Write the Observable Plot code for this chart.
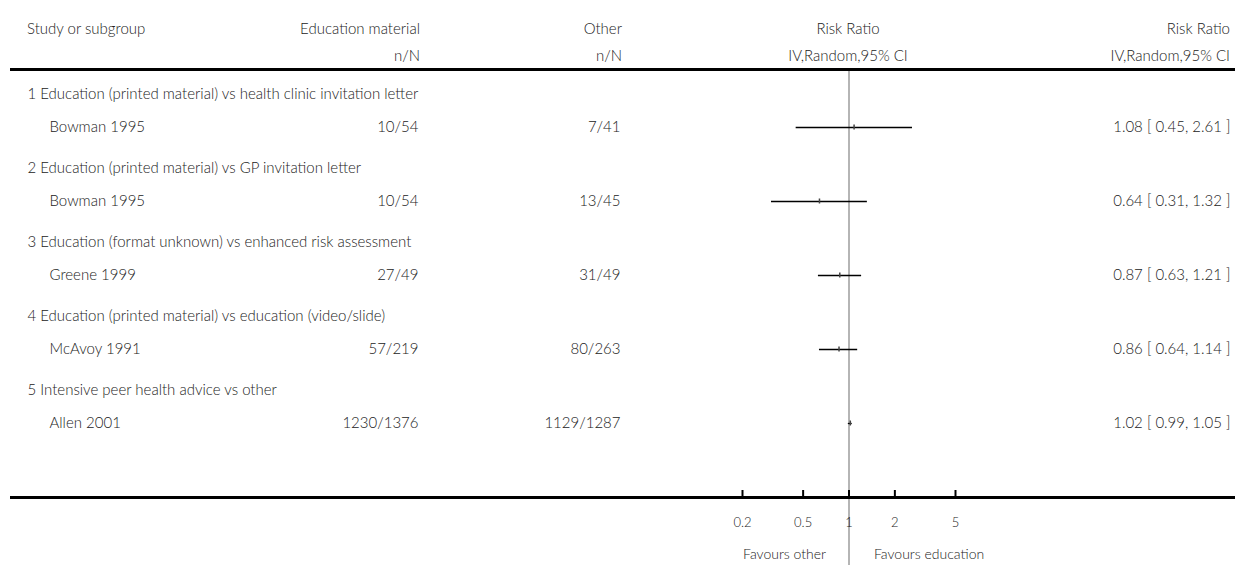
<!DOCTYPE html>
<html>
<head>
<meta charset="utf-8">
<script src="https://cdn.jsdelivr.net/npm/d3@7"></script>
<script src="https://cdn.jsdelivr.net/npm/@observablehq/plot@0.6"></script>
<style>
  html, body { margin: 0; padding: 0; background: #fff; }
  body { width: 1235px; height: 565px; overflow: hidden; font-family: Lato, "Open Sans", sans-serif; font-size: 15px; font-weight: 300; color: #222; }
  #head { position: relative; height: 68px; margin-left: 10px; border-bottom: 3px solid #000; }
  #head span { position: absolute; white-space: nowrap; line-height: 16px; }
  .l1 { top: 20px; }
  .l2 { top: 47px; }
  #chart svg { display: block; }
</style>
</head>
<body>
<div id="head">
  <span class="l1" style="left:17px">Study or subgroup</span>
  <span class="l1" style="right:815px">Education material</span>
  <span class="l1" style="right:613px">Other</span>
  <span class="l1" style="left:838px;transform:translateX(-50%)">Risk Ratio</span>
  <span class="l1" style="right:5px">Risk Ratio</span>
  <span class="l2" style="right:815px">n/N</span>
  <span class="l2" style="right:613px">n/N</span>
  <span class="l2" style="left:838px;transform:translateX(-50%)">IV,Random,95% CI</span>
  <span class="l2" style="right:5px">IV,Random,95% CI</span>
</div>
<div id="chart"></div>
<script>
// ---- data ----
const groups = [
  "1 Education (printed material) vs health clinic invitation letter",
  "2 Education (printed material) vs GP invitation letter",
  "3 Education (format unknown) vs enhanced risk assessment",
  "4 Education (printed material) vs education (video/slide)",
  "5 Intensive peer health advice vs other"
];
const studies = ["Bowman 1995", "Bowman 1995", "Greene 1999", "McAvoy 1991", "Allen 2001"];
const eduEvents = ["10/54", "10/54", "27/49", "57/219", "1230/1376"];
const otherEvents = ["7/41", "13/45", "31/49", "80/263", "1129/1287"];
const rr = [1.08, 0.64, 0.87, 0.86, 1.02];
const lower = [0.45, 0.31, 0.63, 0.64, 0.99];
const upper = [2.61, 1.32, 1.21, 1.14, 1.05];
const axisTicks = [0.2, 0.5, 1, 2, 5];
const favours = ["Favours other", "Favours education"];

const rows = groups.map((g, i) => ({
  group: g, study: studies[i], edu: eduEvents[i], other: otherEvents[i],
  rr: rr[i], lo: lower[i], hi: upper[i],
  label: `${rr[i].toFixed(2)} [ ${lower[i].toFixed(2)}, ${upper[i].toFixed(2)} ]`
}));

const txt = "#222";
const plot = Plot.plot({
  width: 1235,
  height: 494,
  marginLeft: 10, marginRight: 0, marginTop: 0, marginBottom: 0,
  style: { fontFamily: "Lato, 'Open Sans', sans-serif", fontSize: "15px", fontWeight: 300, color: txt, background: "#fff" },
  x: { type: "log", domain: [0.2, 5], range: [742, 955], axis: null },
  y: { type: "point", domain: [...groups, "axis"], range: [55.5, 427], padding: 0, axis: null },
  marks: [
    // line of no effect
    Plot.ruleX([1], { stroke: "#b5b5b5", strokeWidth: 2 }),
    // group headings
    Plot.text(rows, { y: "group", text: "group", frameAnchor: "left", textAnchor: "start", dx: 17, dy: -33, fill: txt }),
    // study rows
    Plot.text(rows, { y: "group", text: "study", frameAnchor: "left", textAnchor: "start", dx: 39, fill: txt }),
    Plot.text(rows, { y: "group", text: "edu", frameAnchor: "left", textAnchor: "end", dx: 408, fill: txt }),
    Plot.text(rows, { y: "group", text: "other", frameAnchor: "left", textAnchor: "end", dx: 610, fill: txt }),
    Plot.text(rows, { y: "group", text: "label", frameAnchor: "right", textAnchor: "end", dx: -5, fill: txt }),
    // confidence intervals
    Plot.ruleY(rows, { y: "group", x1: "lo", x2: "hi", stroke: "#000", strokeWidth: 1.3 }),
    Plot.ruleX(rows, { x: "rr", y1: "group", y2: "group", insetTop: -2.5, insetBottom: -2.5, stroke: "#444", strokeWidth: 1.5 }),
    // axis
    Plot.ruleY(["axis"], { stroke: "#000", strokeWidth: 3 }),
    Plot.ruleX(axisTicks, { x: d => d, y1: () => "axis", y2: () => "axis", insetTop: -7, stroke: "#000", strokeWidth: 2 }),
    Plot.text(axisTicks, { x: d => d, y: () => "axis", text: d => String(d), dy: 25, fill: txt, fontSize: 13 }),
    Plot.text(favours.slice(0, 1), { x: () => 1, y: () => "axis", text: d => d, textAnchor: "end", dx: -23, dy: 57, fill: txt, fontSize: 14 }),
    Plot.text(favours.slice(1), { x: () => 1, y: () => "axis", text: d => d, textAnchor: "start", dx: 25, dy: 57, fill: txt, fontSize: 14 })
  ]
});
document.getElementById("chart").appendChild(plot);
</script>
</body>
</html>
